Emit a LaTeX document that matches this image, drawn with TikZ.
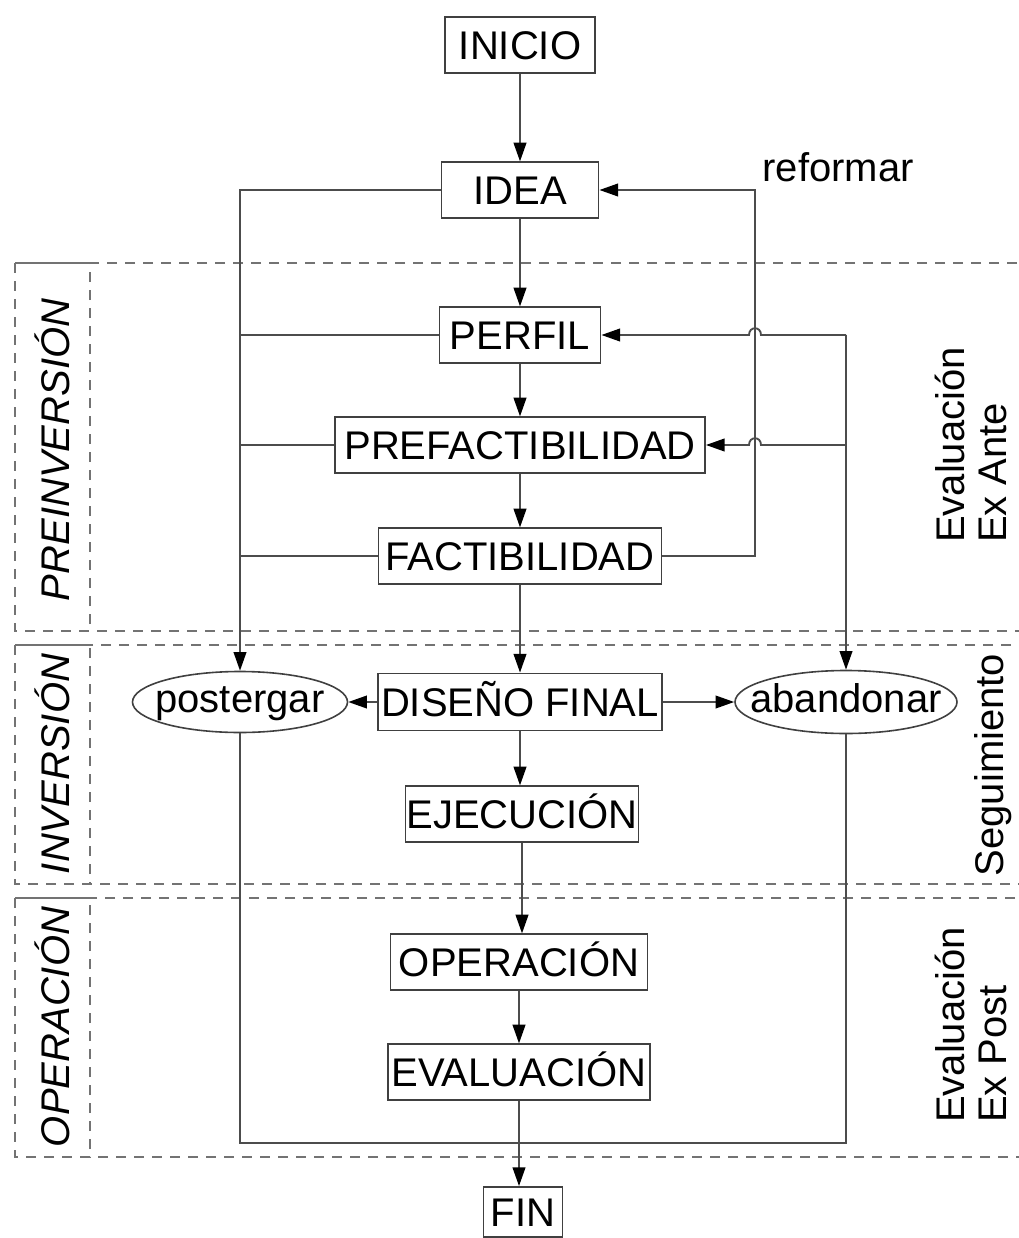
\documentclass[tikz,border=0pt]{standalone}
\usepackage{fontspec}
\setmainfont{Liberation Sans}
\usetikzlibrary{arrows.meta,shapes.geometric,calc}
\begin{document}
\begin{tikzpicture}[x=0.75pt,y=-0.75pt,
  ln/.style={draw=black!70, line width=1.4pt},
  arr/.style={ln, -{Triangle[length=14pt,width=9.5pt,color=black,fill=black]}},
  box/.style={draw=black!75, line width=1.4pt, inner sep=0pt, minimum height=41.5pt,
     text height=21.5pt, text depth=0pt, font=\fontsize{30}{34}\selectfont, text=black},
  ell/.style={ellipse, draw=black!75, line width=1.2pt, inner sep=0pt,
     text height=16pt, text depth=0pt, font=\fontsize{30}{34}\selectfont, text=black},
  dsh/.style={draw=black!55, line width=1.4pt, dash pattern=on 7.5pt off 6pt},
  lbl/.style={font=\fontsize{30}{32}\selectfont, text=black, inner sep=0pt},
  ilbl/.style={lbl, font=\fontsize{30}{32}\selectfont\itshape, rotate=90}
]
\useasboundingbox (0,0) rectangle (1019,1238);
\clip (0,0) rectangle (1019,1238);

% dashed phase regions
\draw[dsh] (15,263) rectangle (1030,631);
\draw[dsh] (15,263) rectangle (90,631);
\draw[dsh] (15,645) rectangle (1030,884);
\draw[dsh] (15,645) rectangle (90,884);
\draw[dsh] (15,898) rectangle (1030,1157);
\draw[dsh] (15,898) rectangle (90,1157);

% phase labels
\node[ilbl] (lpre) at (52,450) {PREINVERSIÓN};
\node[ilbl] (linv) at (52,764) {INVERSIÓN};
\node[ilbl] (lope) at (52,1027) {OPERACIÓN};
\node[lbl, rotate=90, align=left] (rante) at (971,445) {Evaluación\\Ex Ante};
\node[lbl, rotate=90] (rseg) at (993,765) {Seguimiento};
\node[lbl, rotate=90, align=left] (rpost) at (971,1025) {Evaluación\\Ex Post};
\node[lbl] (reformar) at (838,167) {reformar};

% main nodes
\node[box, minimum width=112.5pt] (inicio) at (520,45) {INICIO};
\node[box, minimum width=117.75pt] (idea) at (520,190) {IDEA};
\node[box, minimum width=120.75pt] (perfil) at (520,335) {PERFIL};
\node[box, minimum width=277.5pt] (pref) at (520,445) {PREFACTIBILIDAD};
\node[box, minimum width=212.25pt] (fact) at (520,556) {FACTIBILIDAD};
\node[box, minimum width=213pt, minimum height=42.75pt] (df) at (520,702) {DISEÑO FINAL};
\node[box, minimum width=174.75pt] (ejec) at (522,814) {EJECUCIÓN};
\node[box, minimum width=192.75pt] (oper) at (519,962) {OPERACIÓN};
\node[box, minimum width=196.5pt] (eval) at (519,1072) {EVALUACIÓN};
\node[box, minimum width=59.25pt, minimum height=37.5pt] (fin) at (523,1212) {FIN};

\node[ell, minimum width=161.25pt, minimum height=45.75pt] (post) at (240,702) {\makebox[0pt]{postergar}};
\node[ell, minimum width=166.5pt, minimum height=47.25pt] (aband) at (846,702) {\makebox[0pt]{abandonar}};

% main chain
\draw[arr] (inicio.south) -- (idea.north);
\draw[arr] (idea.south) -- (perfil.north);
\draw[arr] (perfil.south) -- (pref.north);
\draw[arr] (pref.south) -- (fact.north);
\draw[arr] (fact.south) -- (df.north);
\draw[arr] (df.south) -- (df.south |- ejec.north);
\draw[arr] (ejec.south) -- (ejec.south |- oper.north);
\draw[arr] (oper.south) -- (oper.south |- eval.north);
\draw[arr] (eval.south) -- (eval.south |- fin.north);

% postergar branch
\draw[arr] (idea.west) -| (post.north);
\draw[ln] (perfil.west) -- (perfil.west -| post.north);
\draw[ln] (pref.west) -- (pref.west -| post.north);
\draw[ln] (fact.west) -- (fact.west -| post.north);
\draw[arr] (df.west) -- (post.east);

% reformar loop
\coordinate (rf) at (755,190);
\draw[arr] (fact.east) -| (rf) -- (idea.east);

% abandonar branch
\coordinate (ab) at (846,335);
\draw[arr] (ab) -- (aband.north);
\draw[arr] (ab) -- (761,335) .. controls (761,326) and (749,326) .. (749,335) -- (perfil.east);
\draw[arr] (ab |- pref.east) -- (761,445) .. controls (761,436) and (749,436) .. (749,445) -- (pref.east);
\draw[arr] (df.east) -- (aband.west);

% bottom loop
\coordinate (bl) at (240,1143);
\draw[ln] (post.south) -- (bl) -| (aband.south);
\end{tikzpicture}
\end{document}
